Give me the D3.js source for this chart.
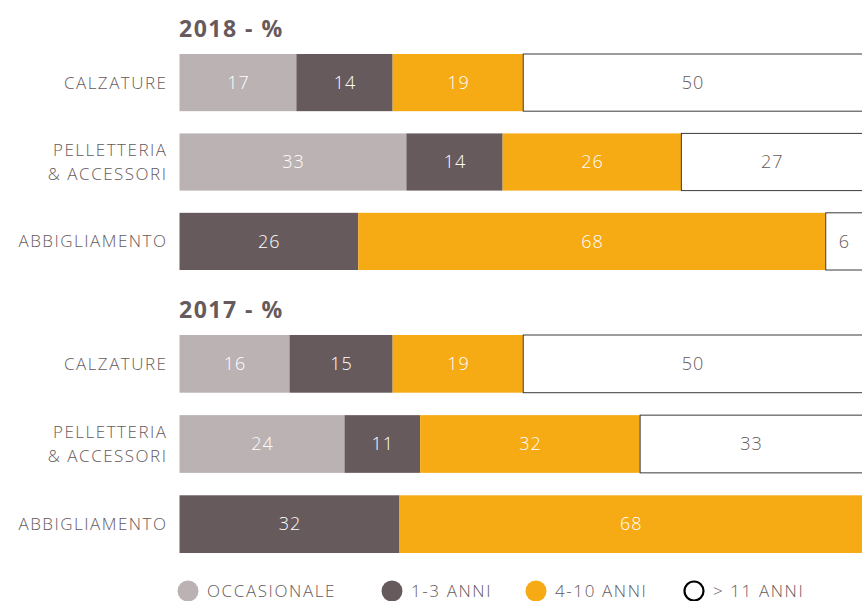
<!DOCTYPE html>
<html>
<head>
<meta charset="utf-8">
<script src="https://cdn.jsdelivr.net/npm/d3@7"></script>
<style>
  body { margin: 0; background: #fff; }
  svg { display: block; }
  text { font-family: "Open Sans", "Noto Sans", sans-serif; }
</style>
</head>
<body>
<div id="chart"></div>
<script>
'use strict';

// categories and series
var categories = ['CALZATURE', 'PELLETTERIA\n& ACCESSORI', 'ABBIGLIAMENTO'];
var seriesNames = ['OCCASIONALE', '1-3 ANNI', '4-10 ANNI', '> 11 ANNI'];

// values per category, one number per series (%)
var values2018 = [
  [17, 14, 19, 50],
  [33, 14, 26, 27],
  [0, 26, 68, 6]
];
var values2017 = [
  [16, 15, 19, 50],
  [24, 11, 32, 33],
  [0, 32, 68, 0]
];

var panelTitles = ['2018 - %', '2017 - %'];

var width = 862;
var height = 601;
var textColour = '#665a5c';
var colour = d3.scaleOrdinal()
               .domain(seriesNames)
               .range(['#bab2b3', '#675a5c', '#f6aa14', '#ffffff']);

var svg = d3.select('#chart')
            .append('svg')
            .attr('width', width)
            .attr('height', height);

// x goes past the right edge of the page, like the original
var x = d3.scaleLinear().domain([0, 100]).range([179.5, 867]);

function makePanel(title, values, titleY, y0, y1) {
  var y = d3.scaleBand()
            .domain(categories)
            .range([y0, y1])
            .paddingInner(0.28);

  svg.append('text')
     .attr('x', 179)
     .attr('y', titleY)
     .attr('fill', textColour)
     .style('font-size', '23px')
     .style('font-weight', 'bold')
     .style('letter-spacing', '1.5px')
     .text(title);

  var rows = categories.map(function(cat, i) {
    var start = 0;
    return values[i].map(function(v, j) {
      var seg = { cat: cat, series: seriesNames[j], value: v, x0: start, x1: start + v };
      start += v;
      return seg;
    }).filter(function(s) { return s.value > 0; });
  });

  var row = svg.append('g')
               .selectAll('g')
               .data(rows)
               .enter()
               .append('g');

  var seg = row.selectAll('g')
               .data(function(d) { return d; })
               .enter()
               .append('g');

  seg.append('rect')
     .attr('x', function(d) { return x(d.x0); })
     .attr('y', function(d) { return y(d.cat); })
     .attr('width', function(d) { return x(d.x1) - x(d.x0); })
     .attr('height', y.bandwidth())
     .attr('fill', function(d) { return colour(d.series); })
     .attr('stroke', function(d) { return d.series === '> 11 ANNI' ? '#3a3a3a' : 'none'; })
     .attr('stroke-width', 1);

  seg.append('text')
     .attr('x', function(d) { return (x(d.x0) + Math.min(x(d.x1), width)) / 2 + 0.5; })
     .attr('y', function(d) { return y(d.cat) + y.bandwidth() / 2; })
     .attr('dy', '0.35em')
     .attr('text-anchor', 'middle')
     .attr('fill', function(d) { return d.series === '> 11 ANNI' ? textColour : '#fff'; })
     .style('font-size', '18px')
     .style('font-weight', 300)
     .style('letter-spacing', '1px')
     .text(function(d) { return d.value; });

  // category labels, right aligned
  var label = svg.append('g')
                 .selectAll('text')
                 .data(categories)
                 .enter()
                 .append('text')
                 .attr('x', 167.5)
                 .attr('y', function(d) { return y(d) + y.bandwidth() / 2; })
                 .attr('text-anchor', 'end')
                 .attr('fill', textColour)
                 .style('font-size', '17px')
                 .style('font-weight', 300)
                 .style('letter-spacing', '1.5px');

  label.each(function(d) {
    var lines = d.split('\n');
    var t = d3.select(this);
    lines.forEach(function(line, i) {
      t.append('tspan')
       .attr('x', 167.5)
       .attr('dy', i === 0 ? (0.35 - (lines.length - 1) * 0.7) + 'em' : '1.4em')
       .text(line);
    });
  });
}

makePanel(panelTitles[0], values2018, 37, 54, 270);
makePanel(panelTitles[1], values2017, 318, 335, 553);

// legend
var legendX = [188, 392, 536, 694];
var legend = svg.append('g')
                .selectAll('g')
                .data(seriesNames)
                .enter()
                .append('g')
                .attr('transform', function(d, i) { return 'translate(' + legendX[i] + ',591)'; });

legend.append('circle')
      .attr('r', function(d) { return d === '> 11 ANNI' ? 9.5 : 10.5; })
      .attr('fill', function(d) { return colour(d); })
      .attr('stroke', function(d) { return d === '> 11 ANNI' ? '#000' : 'none'; })
      .attr('stroke-width', 2.2);

legend.append('text')
      .attr('x', 19)
      .attr('dy', '0.36em')
      .attr('fill', textColour)
      .style('font-size', '17px')
      .style('font-weight', 300)
      .style('letter-spacing', '1.6px')
      .text(function(d) { return d; });
</script>
</body>
</html>
